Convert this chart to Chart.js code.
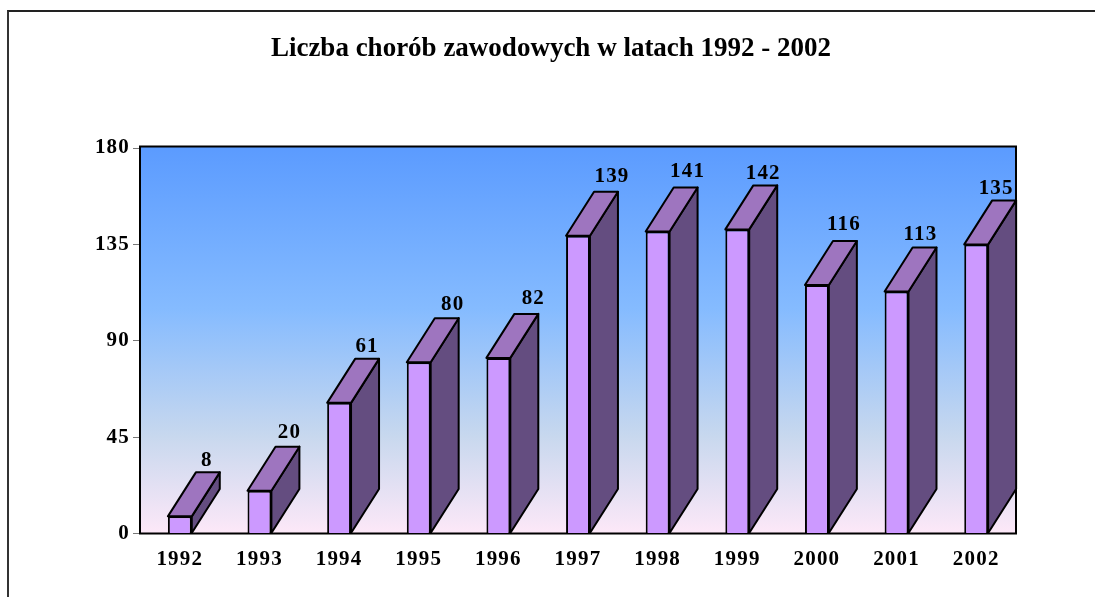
<!DOCTYPE html>
<html>
<head>
<meta charset="utf-8">
<script src="https://cdn.jsdelivr.net/npm/chart.js@4"></script>
<style>
  html, body { margin: 0; padding: 0; background: #fff; overflow: hidden; }
  #frame { position: absolute; left: 7px; top: 10px; width: 1088px; height: 587px; border-top: 2px solid #222; border-left: 2px solid #333; box-sizing: border-box; }
  #chart { position: absolute; left: 0; top: 0; }
</style>
</head>
<body>
<div id="frame"></div>
<canvas id="chart" width="1095" height="597"></canvas>
<script>
const years = ['1992', '1993', '1994', '1995', '1996', '1997', '1998', '1999', '2000', '2001', '2002'];
const cases = [8, 20, 61, 80, 82, 139, 141, 142, 116, 113, 135];
const yTicks = [0, 45, 90, 135, 180];
const titleText = 'Liczba chorób zawodowych w latach 1992 - 2002';

// look of the fake 3D bars
const depthX = 28;
const depthY = 44;
const frontColor = '#cc99ff';
const topColor = '#9e75bf';
const sideColor = '#644d80';
const fontName = '"Liberation Serif", "Times New Roman", serif';

// the value labels are not placed evenly in the original
const labelShiftX = [27, 30, 28, 34, 35, 34, 30, 26, 27, 24, 20];
const labelShiftY = [12, 14, 12, 14, 15, 15, 16, 12, 16, 13, 12];

function face(ctx, points, color) {
  ctx.beginPath();
  points.forEach((p, i) => i ? ctx.lineTo(p[0], p[1]) : ctx.moveTo(p[0], p[1]));
  ctx.closePath();
  ctx.fillStyle = color;
  ctx.fill();
  ctx.stroke();
}

const boxPlugin = {
  id: 'box3d',
  afterLayout(chart) {
    // title sits over the middle of the frame, without the spaced out digits
    const block = chart.titleBlock;
    const drawTitle = block.draw;
    block.left = 7;
    block.right = 1095;
    block.draw = function () {
      const ctx = this.ctx;
      ctx.save();
      ctx.letterSpacing = '0px';
      drawTitle.call(this);
      ctx.restore();
    };
  },
  beforeDraw(chart) {
    chart.ctx.letterSpacing = '1.2px';
  },
  beforeDatasetsDraw(chart) {
    const { ctx, chartArea: a } = chart;
    // the plot box starts a little above the 180 tick in the original
    const boxTop = a.top - 1.5;
    const grad = ctx.createLinearGradient(0, boxTop, 0, a.bottom);
    grad.addColorStop(0, '#5b9bff');
    grad.addColorStop(0.42, '#85bbff');
    grad.addColorStop(0.75, '#c8d8ee');
    grad.addColorStop(1, '#fde8f8');
    ctx.save();
    ctx.fillStyle = grad;
    ctx.fillRect(a.left, boxTop, a.right - a.left, a.bottom - boxTop);
    ctx.strokeStyle = '#000';
    ctx.lineWidth = 2;
    ctx.strokeRect(a.left, boxTop, a.right - a.left, a.bottom - boxTop);
    ctx.restore();
  },
  afterDatasetsDraw(chart) {
    const { ctx } = chart;
    const bars = chart.getDatasetMeta(0).data;
    ctx.save();
    ctx.strokeStyle = '#000';
    ctx.lineWidth = 2;
    ctx.lineJoin = 'round';
    bars.forEach((bar, i) => {
      const left = bar.x - bar.width / 2;
      const right = bar.x + bar.width / 2;
      const top = bar.y;
      const bottom = bar.base;
      face(ctx, [[right, top], [right + depthX, top - depthY], [right + depthX, bottom - depthY], [right, bottom]], sideColor);
      face(ctx, [[left, top], [left + depthX, top - depthY], [right + depthX, top - depthY], [right, top]], topColor);

      ctx.fillStyle = '#000';
      ctx.font = 'bold 21px ' + fontName;
      ctx.textAlign = 'center';
      ctx.textBaseline = 'middle';
      ctx.fillText(String(cases[i]), bar.x + labelShiftX[i], top - depthY - labelShiftY[i]);
    });
    ctx.restore();
  }
};

new Chart(document.getElementById('chart').getContext('2d'), {
  type: 'bar',
  data: {
    labels: years,
    datasets: [{
      data: cases,
      backgroundColor: frontColor,
      borderColor: '#000',
      borderWidth: 2,
      barPercentage: 0.3,
      categoryPercentage: 1
    }]
  },
  options: {
    responsive: false,
    animation: false,
    layout: { padding: { left: 0, right: 79, top: 0, bottom: 0 } },
    plugins: {
      legend: { display: false },
      tooltip: { enabled: false },
      title: {
        display: true,
        text: titleText,
        color: '#000',
        font: { family: fontName, size: 27, weight: 'bold', lineHeight: 1.2 },
        padding: { top: 33, bottom: 82.6 }
      }
    },
    scales: {
      x: {
        afterFit(scale) { scale.height = 63.5; },
        grid: { display: false },
        border: { display: false },
        ticks: {
          color: '#000',
          padding: 5,
          maxRotation: 0,
          font: { family: fontName, size: 21, weight: 'bold' }
        }
      },
      y: {
        min: 0,
        max: 180,
        afterFit(scale) { scale.width = 140; },
        afterBuildTicks(scale) { scale.ticks = yTicks.map(v => ({ value: v })); },
        grid: { drawOnChartArea: false, drawTicks: true, tickLength: 7, tickColor: '#777', tickWidth: 1 },
        border: { display: false },
        ticks: {
          color: '#000',
          padding: 3,
          font: { family: fontName, size: 21, weight: 'bold' }
        }
      }
    }
  },
  plugins: [boxPlugin]
});
</script>
</body>
</html>
